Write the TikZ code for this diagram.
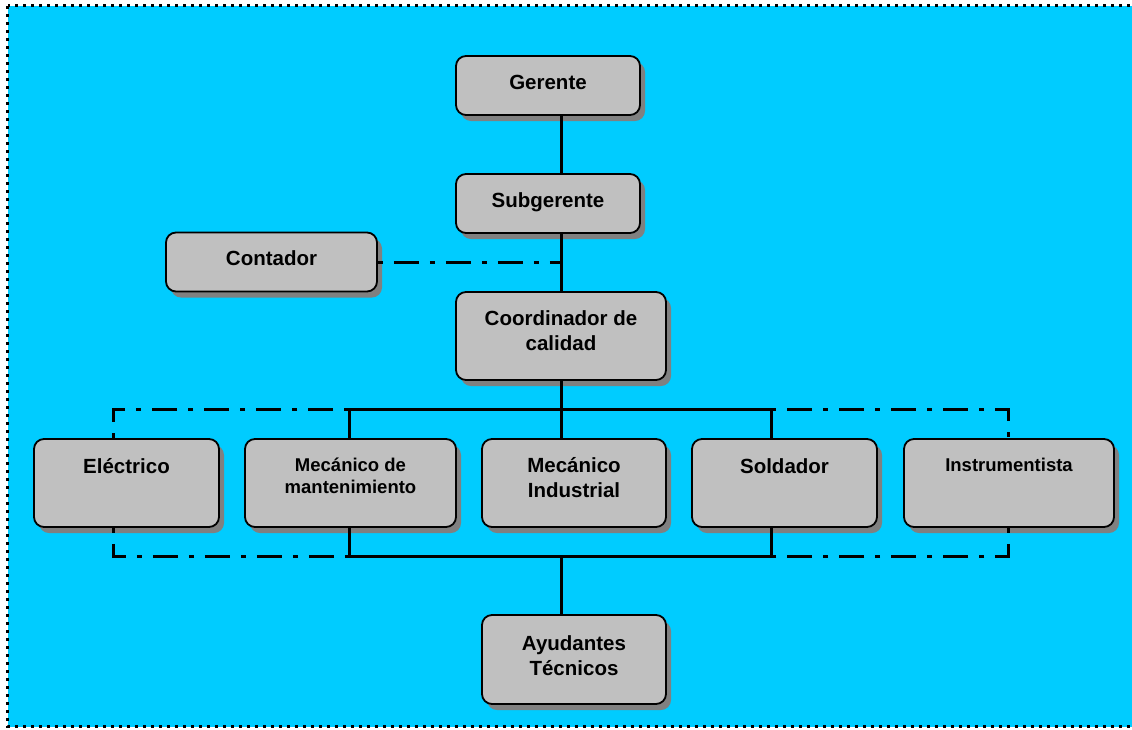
\documentclass[tikz,border=0pt]{standalone}
\usepackage{fontspec}
\setmainfont{Liberation Sans}
\usetikzlibrary{shadows}
\definecolor{skyback}{HTML}{00CCFF}
\definecolor{boxgray}{HTML}{C0C0C0}
\definecolor{shadegray}{HTML}{808080}

\begin{document}
\begin{tikzpicture}[
  x=1pt, y=-1pt,
  font=\bfseries\fontsize{20.5}{25}\selectfont,
  box/.style={draw, line width=1.8pt, rounded corners=10pt, fill=boxgray,
              inner sep=0pt, minimum width=#1,
              drop shadow={shadow xshift=5pt, shadow yshift=-6pt,
                           fill=shadegray, opacity=1}},
  box/.default=184,
  lbl/.style={inner sep=0pt, text height=15pt, text depth=0pt},
  lbltwo/.style={inner sep=0pt, align=center},
  smalltxt/.style={font=\bfseries\fontsize{18.5}{22}\selectfont},
  wire/.style={line width=3pt},
  dotwire/.style={line width=3pt, dash pattern=on 25pt off 11pt on 5pt off 11pt,
                  dash phase=36pt},
  frame/.style={line width=3pt, dash pattern=on 3pt off 5pt},
]
  \path[use as bounding box, clip] (0,0) rectangle (1132,729);
  % --- background and frame ----------------------------------------
  \fill[skyback] (7.5,5.8) rectangle (1160,726.5);
  \draw[frame] (7.5,5.8) rectangle (1160,726.5);

  % --- top of the chart ----------------------------------------------
  \node[box, minimum height=59, label={[lbl, yshift=3.5]center:Gerente}] (ger) at (548,85.5) {};
  \node[box, minimum height=59, label={[lbl, yshift=3.5]center:Subgerente}] (sub) at (548,203.5) {};
  \node[box=211, minimum height=59, label={[lbl, yshift=4]center:Contador}] (con) at (271.5,262) {};
  \node[box=210, minimum height=88, label={[lbltwo, yshift=5.7]center:{Coordinador de\\calidad}}] (coo) at (561,336) {};

  % --- workshop staff ----------------------------------------------
  \node[box=185, minimum height=88, label={[lbl, yshift=17]center:Eléctrico}] (ele) at (126.5,483) {};
  \node[box=211, minimum height=88, label={[lbltwo, smalltxt, yshift=7.6]center:{Mecánico de\\mantenimiento}}] (mma) at (350.5,483) {};
  \node[box, minimum height=88, label={[lbltwo, yshift=5.2]center:{Mecánico\\Industrial}}] (min) at (574,483) {};
  \node[box=185, minimum height=88, label={[lbl, yshift=17]center:Soldador}] (sol) at (784.5,483) {};
  \node[box=210, minimum height=88, label={[lbl, smalltxt, text height=13.3pt, yshift=18]center:Instrumentista}] (ins) at (1009,483) {};

  \node[box, minimum height=89, label={[lbltwo, yshift=4.2]center:{Ayudantes\\Técnicos}}] (ayu) at (574,659.5) {};

  % --- bus corners -------------------------------------------------
  \coordinate (tl) at (349,409);
  \coordinate (tr) at (771,409);
  \coordinate (tll) at (113,409);
  \coordinate (trr) at (1008,409);
  \coordinate (bl) at (349,556);
  \coordinate (br) at (771,556);
  \coordinate (bll) at (113,556);
  \coordinate (brr) at (1008,556);

  % --- connectors --------------------------------------------------
  \draw[wire] (coo |- ger.south) -- (coo |- sub.north);
  \draw[wire] (coo |- sub.south) -- (coo.north);
  \draw[dotwire] (con.east) -- (coo |- con.east);
  \draw[wire] (coo.south) -- (coo.south |- min.north);

  \draw[wire] (tl) -- (tr);
  \draw[wire] (tl) -- (tl |- mma.north);
  \draw[wire] (tr) -- (tr |- sol.north);
  \draw[dotwire] (tl) -- (tll) -- (tll |- ele.north);
  \draw[dotwire] (tr) -- (trr) -- (trr |- ins.north);

  \draw[wire] (bl |- mma.south) -- (bl) -- (br) -- (br |- sol.south);
  \draw[dotwire] (bll |- ele.south) -- (bll) -- (bl);
  \draw[dotwire] (brr |- ins.south) -- (brr) -- (br);
  \draw[wire] (coo |- bl) -- (coo |- ayu.north);
\end{tikzpicture}
\end{document}
